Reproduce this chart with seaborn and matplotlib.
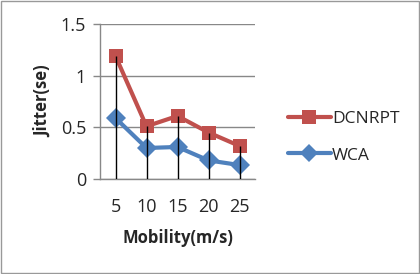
import numpy as np
import pandas as pd
import matplotlib
matplotlib.use('Agg')
import matplotlib.pyplot as plt
import seaborn as sns
from matplotlib.patches import Rectangle

# data
mobility = ['5', '10', '15', '20', '25']
dcnrpt = [1.19, 0.51, 0.61, 0.45, 0.32]
wca = [0.59, 0.30, 0.31, 0.18, 0.135]
y_ticks = [0, 0.5, 1, 1.5]
y_tick_labels = ['0', '0.5', '1', '1.5']

sns.set_style('white')
plt.rcParams['font.family'] = ['Open Sans', 'DejaVu Sans']

pos = np.arange(len(mobility))
df = pd.DataFrame({
    'pos': np.concatenate([pos, pos]),
    'jitter': dcnrpt + wca,
    'series': ['DCNRPT'] * len(mobility) + ['WCA'] * len(mobility),
})

fig = plt.figure(figsize=(4.2, 2.74), dpi=100)
ax = fig.add_axes([100 / 420, 1 - 179 / 274, 155 / 420, 155 / 274])

palette = {'DCNRPT': '#C0504D', 'WCA': '#4F81BD'}
sns.lineplot(data=df, x='pos', y='jitter', hue='series', style='series',
             markers={'DCNRPT': 's', 'WCA': 'D'}, dashes=False,
             palette=palette, linewidth=3, markersize=10, markeredgewidth=0,
             ax=ax, legend=False, zorder=3)

# drop lines
ax.vlines(pos, 0, dcnrpt, color='black', linewidth=1, zorder=4)

ax.set_xlim(-0.5, len(mobility) - 0.5)
ax.set_ylim(0, 1.5)
ax.set_xticks(pos)
ax.set_xticklabels(mobility, fontsize=13)
ax.set_yticks(y_ticks)
ax.set_yticklabels(y_tick_labels, fontsize=13)
ax.tick_params(axis='x', length=0, pad=14)
ax.tick_params(axis='y', length=5, width=1, color='#888888', pad=5, direction='out', left=True)
ax.yaxis.grid(True, color='#888888', linewidth=1)
ax.set_axisbelow(True)
for s in ['top', 'right']:
    ax.spines[s].set_visible(False)
for s in ['left', 'bottom']:
    ax.spines[s].set_color('#888888')
    ax.spines[s].set_linewidth(1)

ax.set_xlabel('Mobility(m/s)', fontsize=12, fontweight='bold', labelpad=9)
ax.set_ylabel('Jitter(se)', fontsize=12, fontweight='bold', labelpad=6)

# legend
handles = [
    plt.Line2D([], [], color=palette['DCNRPT'], lw=3, marker='s', markersize=10, markeredgewidth=0),
    plt.Line2D([], [], color=palette['WCA'], lw=3, marker='D', markersize=9, markeredgewidth=0),
]
fig.legend(handles, ['DCNRPT', 'WCA'], loc='center left',
           bbox_to_anchor=(272 / 420, 1 - 137 / 274), frameon=False,
           fontsize=12.5, handlelength=2.5, handletextpad=0.05, labelspacing=1.2)

fig.patches.append(Rectangle((0.002, 0.003), 0.995, 0.993, transform=fig.transFigure,
                             fill=False, edgecolor='#999999', linewidth=1))

fig.savefig('out.png', dpi=100)
